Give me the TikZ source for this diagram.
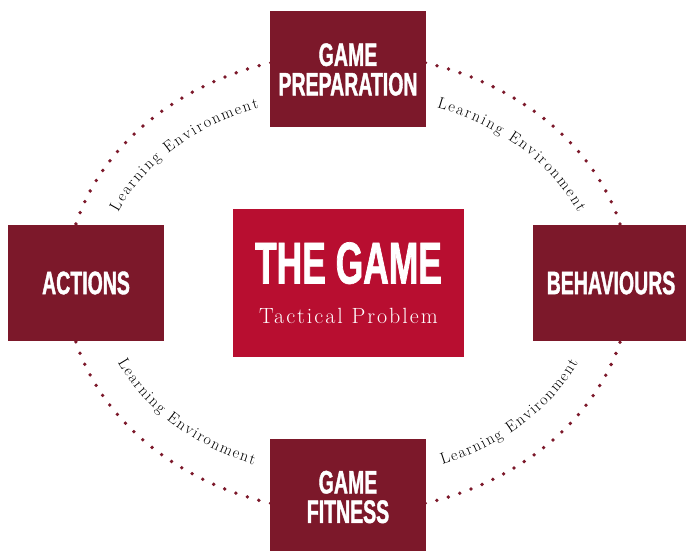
\documentclass[tikz,border=0pt]{standalone}
\usepackage{fontspec}
\usetikzlibrary{decorations.text}
\newfontfamily\headfont[FakeStretch=0.6, FakeBold=1.2]{Liberation Sans}
\newfontfamily\subserif[Extension=.otf, LetterSpace=9]{lmroman17-regular}
\newcommand\subfont{\subserif\fontsize{22}{24}\selectfont}
\newcommand\envfont{\rmfamily\mdseries\fontsize{16}{18}\selectfont}
\definecolor{wine}{RGB}{124,24,42}
\definecolor{crimson}{RGB}{184,14,48}
\begin{document}
\begin{tikzpicture}[x=1pt, y=1pt,
    stage/.style={fill=wine, text=white, minimum width=156, minimum height=116,
      inner sep=0, align=center, font=\headfont\bfseries\fontsize{32.5}{29.5}\selectfont},
    core/.style={fill=crimson, text=white, minimum width=231, minimum height=148,
      inner sep=0, align=center, font=\headfont\bfseries\fontsize{59}{40}\selectfont},
    dotring/.style={draw=wine, line width=3.8pt, line cap=round, dash pattern=on 0pt off 12pt},
    envtext/.style={decorate, decoration={text along path,
      text={|\envfont|Learning Environment}, text align={fit to path}}}]
   \useasboundingbox (0,0) rectangle (686,551);
   \coordinate (hub) at (348,268);
   \draw[dotring] (hub) ellipse [x radius=281.5, y radius=229];

   \begin{scope}[every node/.style={stage}]
    \node (prep) at (348,481.5) {GAME\\PREPARATION};
    \node (acts) at (86,268) {ACTIONS};
    \node (behav) at (611,268) {BEHAVIOURS};
    \node (fit) at (348,54) {GAME\\FITNESS};
   \end{scope}
   \node[core] (game) at (348.5,268) {THE GAME\\{\subfont Tactical Problem}};

   % learning environment labels
   \begin{scope}[shift={(hub)}]
    \path[envtext] (158:248 and 188) arc [start angle=158, end angle=111, x radius=248, y radius=188];
    \path[envtext] (69:248 and 188) arc [start angle=69, end angle=22, x radius=248, y radius=188];
    \path[envtext] (204:252 and 196) arc [start angle=204, end angle=248, x radius=252, y radius=196];
    \path[envtext] (292:252 and 196) arc [start angle=292, end angle=336, x radius=252, y radius=196];
   \end{scope}
\end{tikzpicture}
\end{document}
